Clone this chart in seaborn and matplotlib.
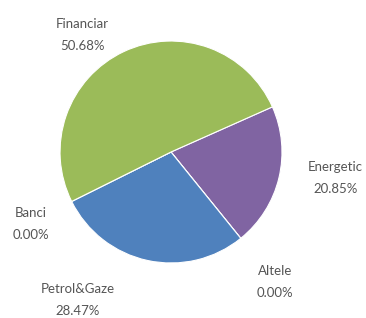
import matplotlib
matplotlib.use('Agg')
import matplotlib.pyplot as plt
import seaborn as sns

# data (clockwise order as in the chart)
sectors = ['Energetic', 'Altele', 'Petrol&Gaze', 'Banci', 'Financiar']
shares = [20.85, 0.00, 28.47, 0.00, 50.68]
colors = ['#8064A2', '#F79646', '#4F81BD', '#C0504D', '#9BBB59']

# label positions (pie radius = 1)
label_pos = {
    'Energetic': (1.48, -0.23),
    'Altele': (0.94, -1.17),
    'Petrol&Gaze': (-0.84, -1.33),
    'Banci': (-1.26, -0.65),
    'Financiar': (-0.80, 1.05),
}

sns.set_theme(style='white')
plt.rcParams['font.family'] = ['Lato', 'DejaVu Sans']

fig = plt.figure(figsize=(3.66, 3.18), dpi=100)
ax = fig.add_axes([0, 0, 1, 1])

labels = ['%s\n%.2f%%' % (s, v) for s, v in zip(sectors, shares)]
wedges, texts = ax.pie(shares, labels=labels, colors=colors, startangle=24,
                       counterclock=False,
                       wedgeprops=dict(edgecolor='white', linewidth=0.8))

for t, s in zip(texts, sectors):
    t.set_position(label_pos[s])
    t.set_ha('center')
    t.set_va('center')
    t.set_fontsize(9.5)
    t.set_color('#555555')
    t.set_linespacing(2.0)

ax.set_xlim(-1.541, 1.757)
ax.set_ylim(-1.495, 1.369)
ax.set_aspect('equal')
ax.axis('off')

fig.savefig('out.png', dpi=100)
